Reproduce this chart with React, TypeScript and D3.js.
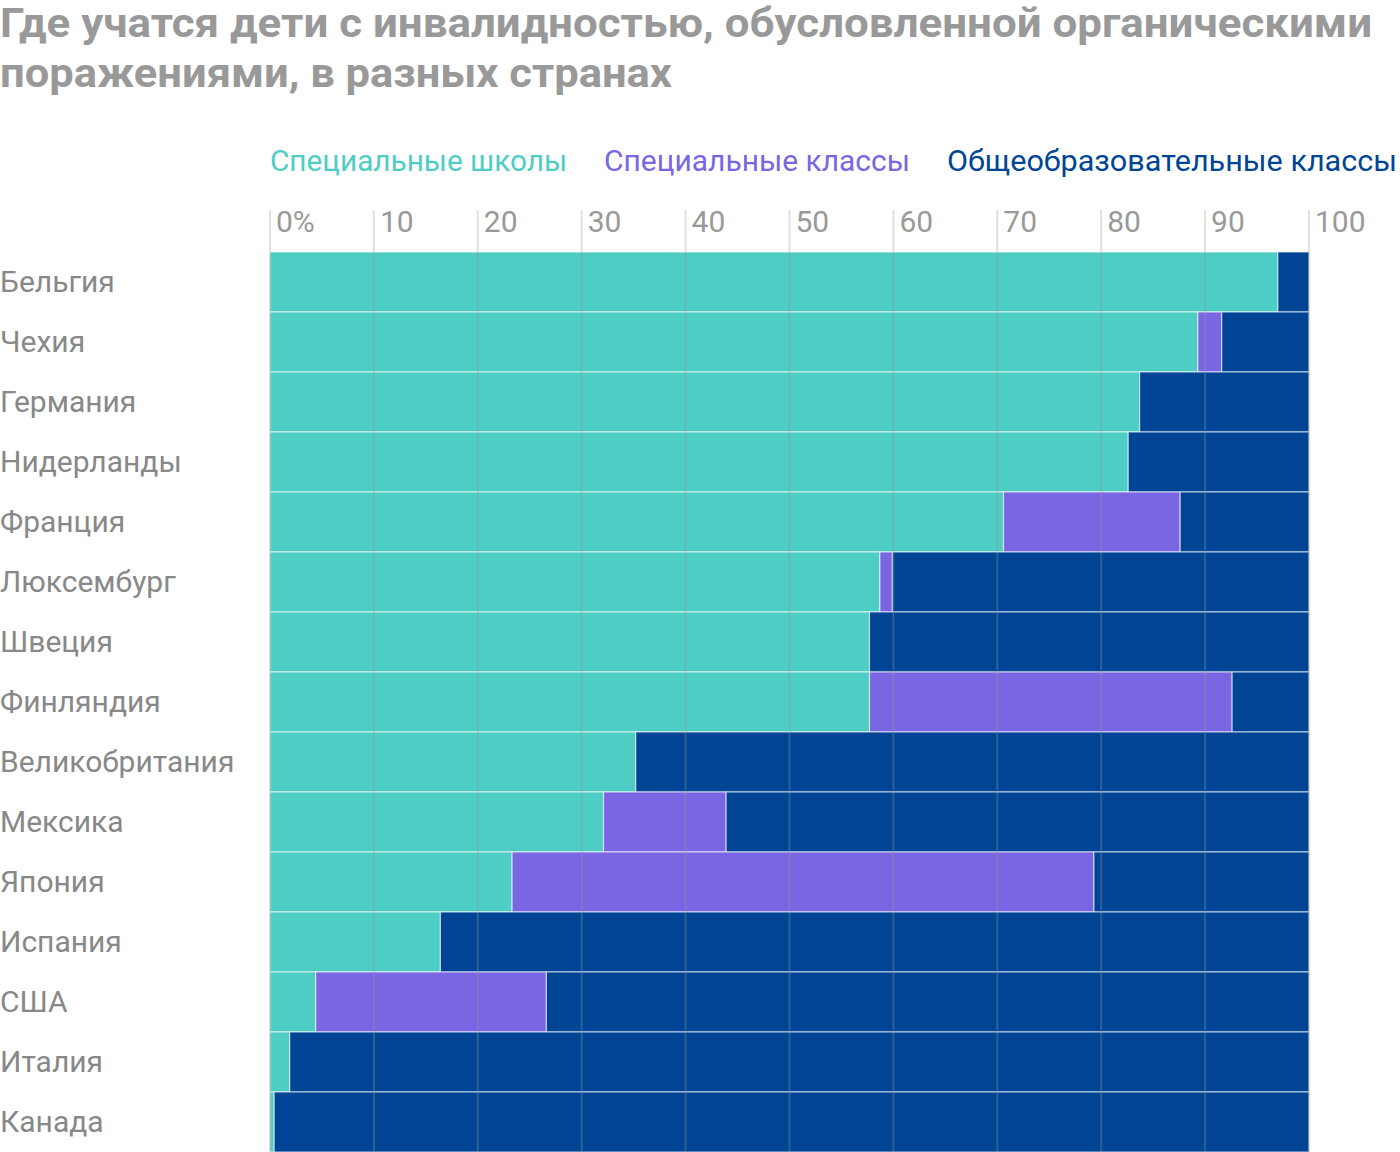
import React from "react";
import * as d3 from "d3";

const countries = ["Бельгия","Чехия","Германия","Нидерланды","Франция","Люксембург","Швеция","Финляндия","Великобритания","Мексика","Япония","Испания","США","Италия","Канада"];
const specialSchools = [97.0, 89.3, 83.7, 82.6, 70.6, 58.7, 57.7, 57.7, 35.2, 32.1, 23.3, 16.4, 4.4, 1.9, 0.4];
const specialClasses = [0, 2.3, 0, 0, 17.0, 1.2, 0, 34.9, 0, 11.8, 56.0, 0, 22.2, 0, 0];
const seriesNames = ["Специальные школы", "Специальные классы", "Общеобразовательные классы"];
const seriesColors = ["#4ECDC4", "#7A66E2", "#004595"];
const ticks = [0, 10, 20, 30, 40, 50, 60, 70, 80, 90, 100];
const titleLines = ["Где учатся дети с инвалидностью, обусловленной органическими", "поражениями, в разных странах"];

export default function App() {
  const W = 1400, H = 1152;
  const x = d3.scaleLinear().domain([0, 100]).range([270, 1309]);
  const y = d3.scaleBand().domain(countries).range([252, 1152]).padding(0);
  const rows = countries.map((c, i) => {
    const a = specialSchools[i];
    const b = specialClasses[i];
    return { c, segs: [[0, a], [a, a + b], [a + b, 100]] };
  });
  const legendX = [270, 604, 947];
  const legendW = [297, 306, 450];
  const titleW = [1372, 672];
  return (
    <svg width={W} height={H} style={{ position: "absolute", left: 0, top: 0, fontFamily: "Roboto, sans-serif" }}>
      {titleLines.map((t, i) => (
        <text key={i} x={0} y={37 + i * 50} fontSize={40} fontWeight={700} fill="#999"
          textLength={titleW[i]} lengthAdjust="spacingAndGlyphs">{t}</text>
      ))}
      {seriesNames.map((n, i) => (
        <text key={n} x={legendX[i]} y={171} fontSize={30} fill={seriesColors[i]}
          textLength={legendW[i]} lengthAdjust="spacingAndGlyphs">{n}</text>
      ))}
      {ticks.map(t => (
        <text key={t} x={x(t) + 6} y={232} fontSize={30} fill="#999">{t === 0 ? "0%" : t}</text>
      ))}
      {rows.map(r => (
        <g key={r.c}>
          {r.segs.map((s, j) => s[1] - s[0] > 0 ? (
            <rect key={j} x={x(s[0])} y={y(r.c)!} width={x(s[1]) - x(s[0])} height={y.bandwidth()}
              fill={seriesColors[j]} stroke="#ffffff" strokeOpacity={0.6} strokeWidth={1.2} />
          ) : null)}
          <text x={0} y={y(r.c)! + y.bandwidth() / 2 + 10} fontSize={30} fill="#888">{r.c}</text>
        </g>
      ))}
      {ticks.map(t => (
        <line key={t} x1={x(t)} x2={x(t)} y1={210} y2={1152} stroke="#999" strokeOpacity={0.3} strokeWidth={2} />
      ))}
    </svg>
  );
}
